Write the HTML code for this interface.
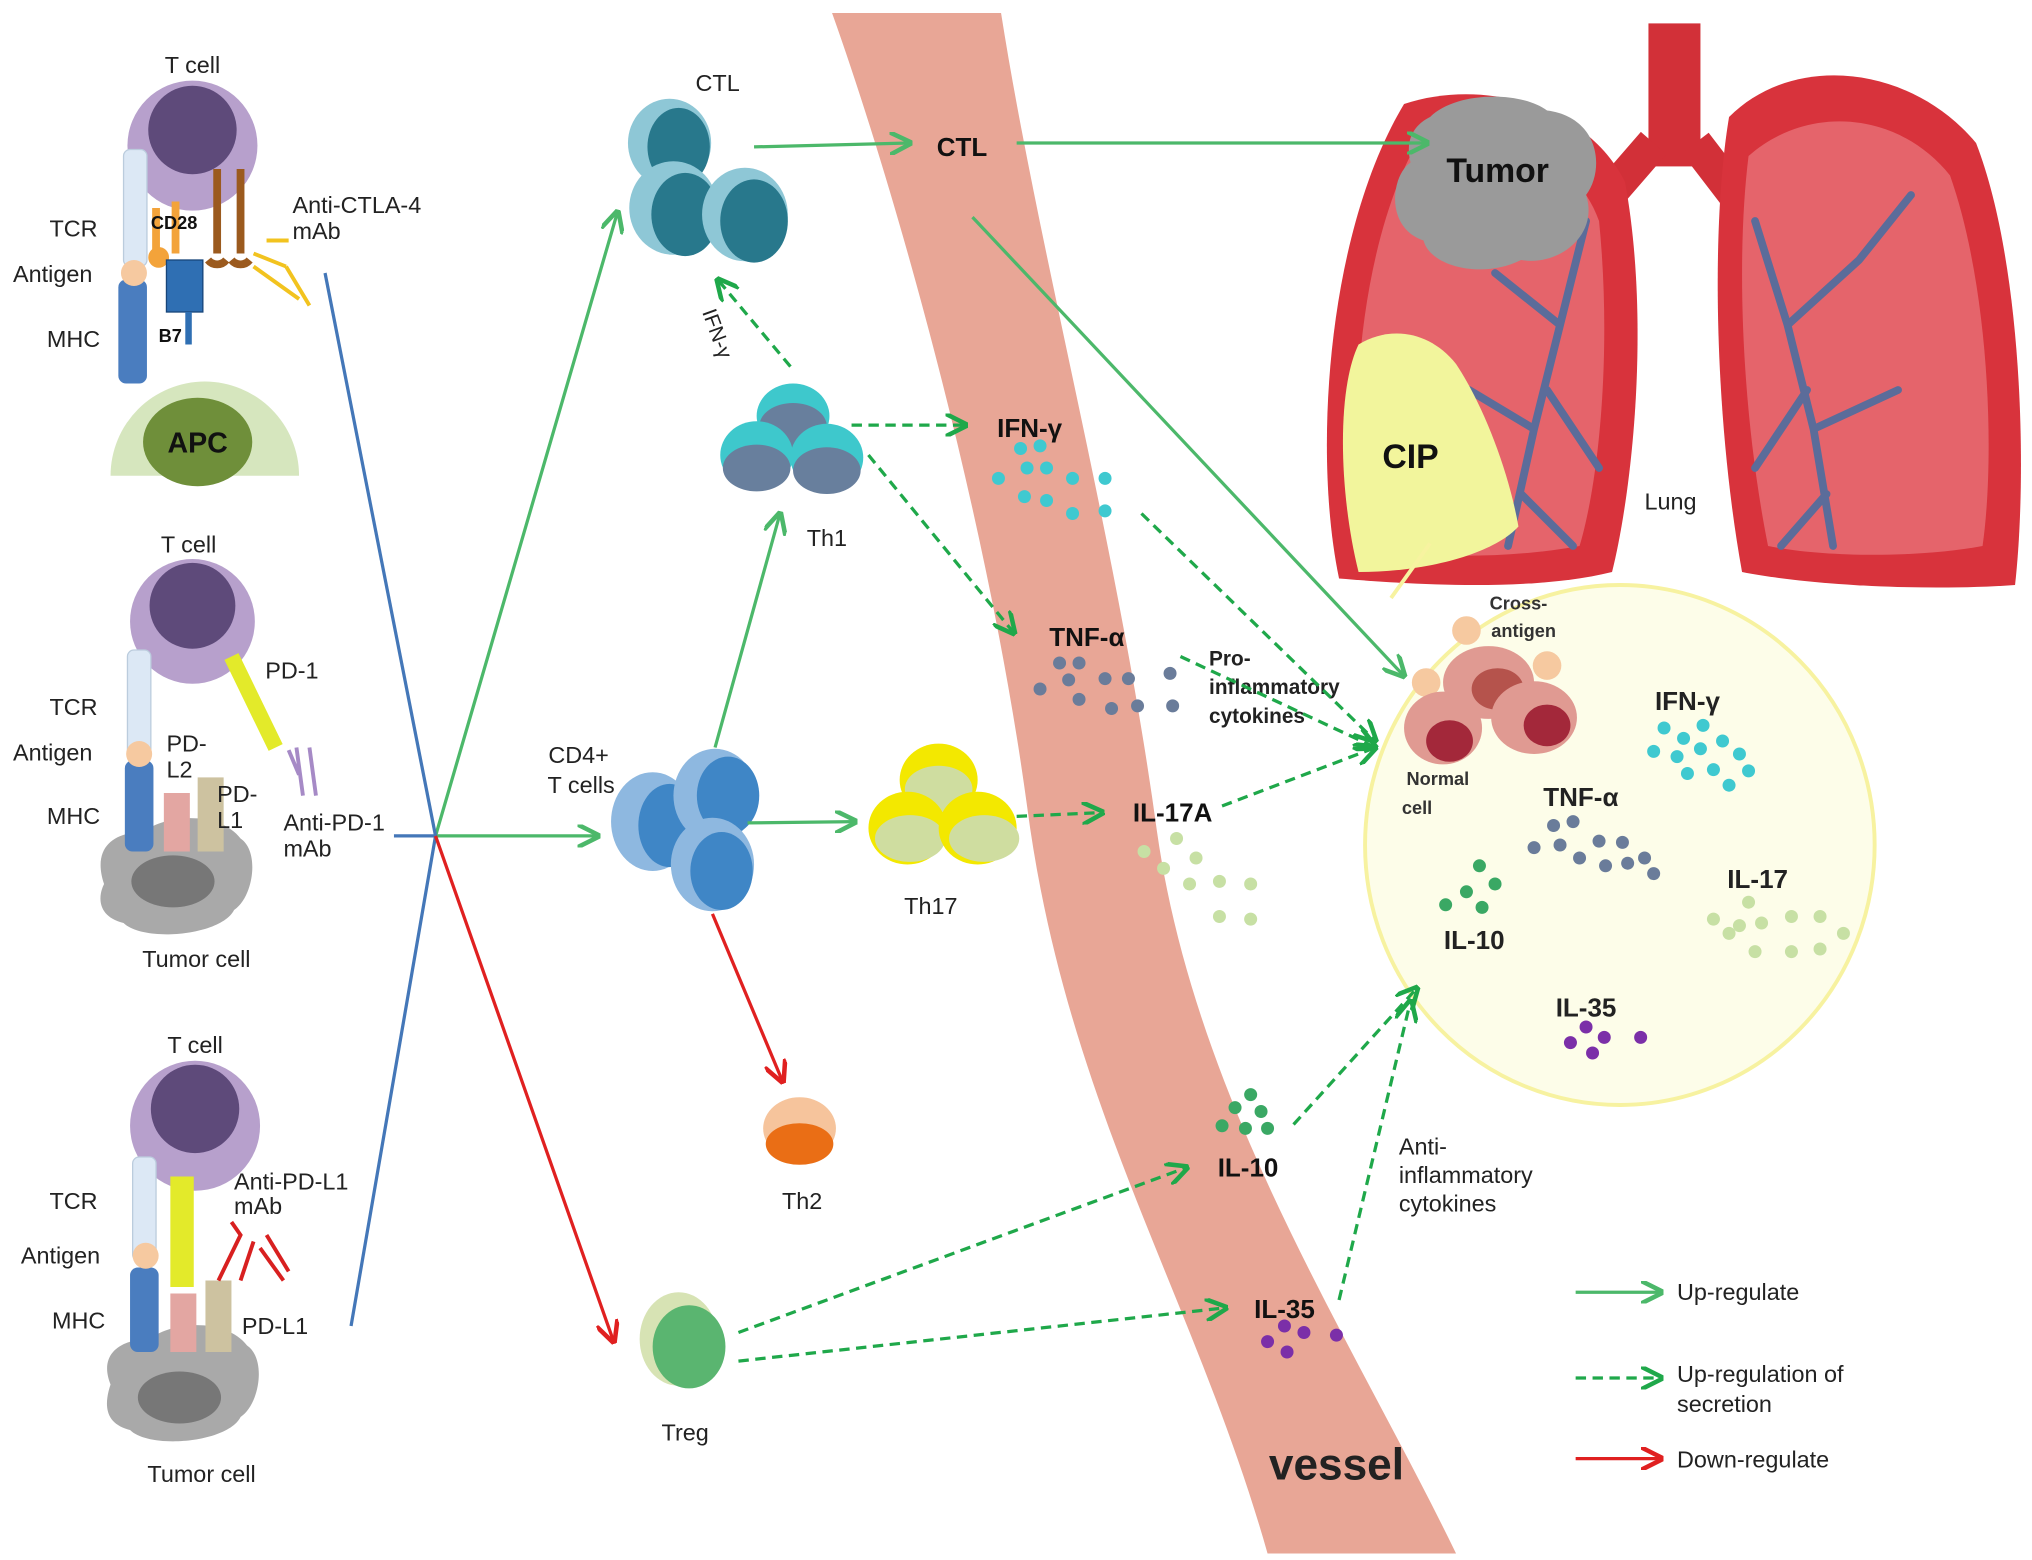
<!DOCTYPE html>
<html><head><meta charset="utf-8"><style>
html,body{margin:0;padding:0;background:#fff}
svg{display:block}
text{font-family:"Liberation Sans",sans-serif}
</style></head><body>
<svg width="2032" height="1560" viewBox="0 0 1563 1200" xmlns="http://www.w3.org/2000/svg">
<defs>
<marker id="ag" viewBox="0 0 10 10" refX="9" refY="5" markerWidth="7" markerHeight="7" orient="auto"><path d="M0,0 L10,5 L0,10" fill="none" stroke="#4cb86a" stroke-width="2"/></marker>
<marker id="ad" viewBox="0 0 10 10" refX="9" refY="5" markerWidth="7" markerHeight="7" orient="auto"><path d="M0,0 L10,5 L0,10" fill="none" stroke="#1fa84a" stroke-width="2"/></marker>
<marker id="ar" viewBox="0 0 10 10" refX="9" refY="5" markerWidth="7" markerHeight="7" orient="auto"><path d="M0,0 L10,5 L0,10" fill="none" stroke="#e02020" stroke-width="2"/></marker>
</defs>
<rect width="1563" height="1200" fill="#fff"/>
<!-- vessel -->
<path d="M640,10 C690,150 760,400 790,620 C820,850 920,1000 975,1195 L1120,1195 C1040,1030 920,850 890,640 C860,420 800,200 770,10 Z" fill="#e8a696"/>
<text x="1028" y="1138" font-size="34" font-weight="bold" text-anchor="middle" fill="#222">vessel</text>
<!-- lungs -->
<rect x="1268" y="18" width="40" height="110" fill="#d23038"/>
<path d="M1272,110 L1220,170 M1304,110 L1350,170" stroke="#d23038" stroke-width="26" fill="none"/>
<path d="M1080,80 C1140,60 1220,80 1250,140 C1270,250 1255,380 1240,440 C1180,455 1090,450 1030,445 C1010,350 1020,180 1080,80 Z" fill="#d8333c"/>
<path d="M1090,110 C1150,95 1210,115 1230,170 C1240,270 1230,370 1215,420 C1160,430 1090,430 1050,420 C1035,330 1045,190 1090,110 Z" fill="#e5646b"/>
<path d="M1330,90 C1380,40 1470,50 1520,110 C1555,200 1560,360 1550,450 C1480,455 1390,450 1340,440 C1320,330 1315,180 1330,90 Z" fill="#d8333c"/>
<path d="M1345,120 C1390,80 1460,85 1500,135 C1530,220 1535,350 1525,420 C1470,430 1400,428 1360,420 C1340,320 1335,200 1345,120 Z" fill="#e5646b"/>
<g stroke="#5b6c9a" stroke-width="6" fill="none" stroke-linecap="round">
<path d="M1220,170 L1200,250 L1180,330 L1160,420 M1200,250 L1150,210 M1190,300 L1230,360 M1180,330 L1130,300 M1170,380 L1210,420"/>
<path d="M1350,170 L1375,250 L1395,330 L1410,420 M1375,250 L1430,200 M1390,300 L1350,360 M1395,330 L1460,300 M1405,380 L1370,420 M1430,200 L1470,150"/>
</g>
<path d="M1100,90 C1120,70 1170,70 1190,85 C1230,90 1235,130 1220,150 C1230,180 1200,205 1170,200 C1140,215 1100,205 1095,185 C1065,175 1070,135 1085,125 C1080,105 1090,95 1100,90 Z" fill="#9a9a9a"/>
<text x="1152" y="140" font-size="26" font-weight="bold" text-anchor="middle" fill="#111">Tumor</text>
<path d="M1045,265 C1070,250 1100,255 1120,280 C1140,310 1160,360 1168,405 C1150,425 1100,440 1045,440 C1030,380 1028,300 1045,265 Z" fill="#f2f59c"/>
<text x="1085" y="360" font-size="26" font-weight="bold" text-anchor="middle" fill="#111">CIP</text>
<text x="1285" y="392" font-size="18" text-anchor="middle" fill="#222">Lung</text>
<!-- magnified circle -->
<line x1="1100" y1="418" x2="1070" y2="460" stroke="#f7f3a0" stroke-width="3"/>
<ellipse cx="1246" cy="650" rx="196" ry="200" fill="#fdfde9" stroke="#f7f2a0" stroke-width="3"/>
<circle cx="1128" cy="485" r="11" fill="#f6c9a0"/><circle cx="1097" cy="525" r="11" fill="#f6c9a0"/><circle cx="1190" cy="512" r="11" fill="#f6c9a0"/>
<ellipse cx="1145" cy="525" rx="35" ry="28" fill="#e09a92"/><ellipse cx="1152" cy="530" rx="20" ry="16" fill="#b5534c"/>
<ellipse cx="1110" cy="560" rx="30" ry="28" fill="#e09a92"/><ellipse cx="1115" cy="570" rx="18" ry="16" fill="#a3283a"/>
<ellipse cx="1180" cy="552" rx="33" ry="28" fill="#e09a92"/><ellipse cx="1190" cy="558" rx="18" ry="16" fill="#a3283a"/>
<text x="1168" y="469" font-size="14" font-weight="bold" text-anchor="middle" fill="#333">Cross-</text>
<text x="1172" y="490" font-size="14" font-weight="bold" text-anchor="middle" fill="#333">antigen</text>
<text x="1106" y="604" font-size="14" font-weight="bold" text-anchor="middle" fill="#333">Normal</text>
<text x="1090" y="626" font-size="14" font-weight="bold" text-anchor="middle" fill="#333">cell</text>
<text x="1298" y="546" font-size="20" font-weight="bold" text-anchor="middle" fill="#222">IFN-γ</text>
<g fill="#3fc9d0"><circle cx="1280" cy="560" r="5"/><circle cx="1295" cy="568" r="5"/><circle cx="1310" cy="558" r="5"/><circle cx="1272" cy="578" r="5"/><circle cx="1290" cy="582" r="5"/><circle cx="1308" cy="576" r="5"/><circle cx="1325" cy="570" r="5"/><circle cx="1338" cy="580" r="5"/><circle cx="1298" cy="595" r="5"/><circle cx="1318" cy="592" r="5"/><circle cx="1345" cy="593" r="5"/><circle cx="1330" cy="604" r="5"/></g>
<text x="1216" y="620" font-size="20" font-weight="bold" text-anchor="middle" fill="#222">TNF-α</text>
<g fill="#6a7c9a"><circle cx="1195" cy="635" r="5"/><circle cx="1210" cy="632" r="5"/><circle cx="1180" cy="652" r="5"/><circle cx="1200" cy="650" r="5"/><circle cx="1215" cy="660" r="5"/><circle cx="1230" cy="647" r="5"/><circle cx="1248" cy="648" r="5"/><circle cx="1235" cy="666" r="5"/><circle cx="1252" cy="664" r="5"/><circle cx="1265" cy="660" r="5"/><circle cx="1272" cy="672" r="5"/></g>
<text x="1352" y="683" font-size="20" font-weight="bold" text-anchor="middle" fill="#222">IL-17</text>
<g fill="#c7e0a4"><circle cx="1345" cy="694" r="5"/><circle cx="1318" cy="707" r="5"/><circle cx="1338" cy="712" r="5"/><circle cx="1355" cy="710" r="5"/><circle cx="1330" cy="718" r="5"/><circle cx="1378" cy="705" r="5"/><circle cx="1400" cy="705" r="5"/><circle cx="1418" cy="718" r="5"/><circle cx="1350" cy="732" r="5"/><circle cx="1378" cy="732" r="5"/><circle cx="1400" cy="730" r="5"/></g>
<text x="1134" y="730" font-size="20" font-weight="bold" text-anchor="middle" fill="#222">IL-10</text>
<g fill="#3aa864"><circle cx="1138" cy="666" r="5"/><circle cx="1150" cy="680" r="5"/><circle cx="1128" cy="686" r="5"/><circle cx="1112" cy="696" r="5"/><circle cx="1140" cy="698" r="5"/></g>
<text x="1220" y="782" font-size="20" font-weight="bold" text-anchor="middle" fill="#222">IL-35</text>
<g fill="#7b2fa8"><circle cx="1220" cy="790" r="5"/><circle cx="1208" cy="802" r="5"/><circle cx="1234" cy="798" r="5"/><circle cx="1225" cy="810" r="5"/><circle cx="1262" cy="798" r="5"/></g>
<!-- vessel contents -->
<text x="740" y="120" font-size="20" font-weight="bold" text-anchor="middle" fill="#111">CTL</text>
<text x="792" y="336" font-size="20" font-weight="bold" text-anchor="middle" fill="#111">IFN-γ</text>
<g fill="#3fc9d0"><circle cx="785" cy="345" r="5"/><circle cx="800" cy="343" r="5"/><circle cx="790" cy="360" r="5"/><circle cx="805" cy="360" r="5"/><circle cx="768" cy="368" r="5"/><circle cx="825" cy="368" r="5"/><circle cx="850" cy="368" r="5"/><circle cx="788" cy="382" r="5"/><circle cx="805" cy="385" r="5"/><circle cx="825" cy="395" r="5"/><circle cx="850" cy="393" r="5"/></g>
<text x="836" y="497" font-size="20" font-weight="bold" text-anchor="middle" fill="#111">TNF-α</text>
<g fill="#6a7c9a"><circle cx="815" cy="510" r="5"/><circle cx="830" cy="510" r="5"/><circle cx="822" cy="523" r="5"/><circle cx="800" cy="530" r="5"/><circle cx="850" cy="522" r="5"/><circle cx="868" cy="522" r="5"/><circle cx="900" cy="518" r="5"/><circle cx="830" cy="538" r="5"/><circle cx="855" cy="545" r="5"/><circle cx="875" cy="543" r="5"/><circle cx="902" cy="543" r="5"/></g>
<text x="902" y="632" font-size="20" font-weight="bold" text-anchor="middle" fill="#111">IL-17A</text>
<g fill="#c7e0a4"><circle cx="905" cy="645" r="5"/><circle cx="920" cy="660" r="5"/><circle cx="880" cy="655" r="5"/><circle cx="895" cy="668" r="5"/><circle cx="915" cy="680" r="5"/><circle cx="938" cy="678" r="5"/><circle cx="962" cy="680" r="5"/><circle cx="938" cy="705" r="5"/><circle cx="962" cy="707" r="5"/></g>
<g fill="#3aa864"><circle cx="962" cy="842" r="5"/><circle cx="950" cy="852" r="5"/><circle cx="970" cy="855" r="5"/><circle cx="940" cy="866" r="5"/><circle cx="958" cy="868" r="5"/><circle cx="975" cy="868" r="5"/></g>
<text x="960" y="905" font-size="20" font-weight="bold" text-anchor="middle" fill="#111">IL-10</text>
<text x="988" y="1014" font-size="20" font-weight="bold" text-anchor="middle" fill="#111">IL-35</text>
<g fill="#7b2fa8"><circle cx="988" cy="1020" r="5"/><circle cx="1003" cy="1025" r="5"/><circle cx="975" cy="1032" r="5"/><circle cx="990" cy="1040" r="5"/><circle cx="1028" cy="1027" r="5"/></g>
<text x="930" y="512" font-size="16" font-weight="bold" fill="#222">Pro-</text>
<text x="930" y="534" font-size="16" font-weight="bold" fill="#222">inflammatory</text>
<text x="930" y="556" font-size="16" font-weight="bold" fill="#222">cytokines</text>
<text x="1076" y="888" font-size="18" fill="#222">Anti-</text>
<text x="1076" y="910" font-size="18" fill="#222">inflammatory</text>
<text x="1076" y="932" font-size="18" fill="#222">cytokines</text>
<!-- cells -->
<g>
<ellipse cx="515" cy="110" rx="32" ry="34" fill="#8ec7d6"/><ellipse cx="522" cy="113" rx="24" ry="30" fill="#28788c"/>
<ellipse cx="518" cy="160" rx="34" ry="36" fill="#8ec7d6"/><ellipse cx="527" cy="165" rx="26" ry="32" fill="#28788c"/>
<ellipse cx="573" cy="165" rx="33" ry="36" fill="#8ec7d6"/><ellipse cx="580" cy="170" rx="26" ry="32" fill="#28788c"/>
</g>
<text x="552" y="70" font-size="18" text-anchor="middle" fill="#222">CTL</text>
<g>
<ellipse cx="610" cy="320" rx="28" ry="25" fill="#3ec8cc"/><ellipse cx="610" cy="328" rx="26" ry="18" fill="#687f9d"/>
<ellipse cx="582" cy="350" rx="28" ry="26" fill="#3ec8cc"/><ellipse cx="582" cy="360" rx="26" ry="18" fill="#687f9d"/>
<ellipse cx="636" cy="352" rx="28" ry="26" fill="#3ec8cc"/><ellipse cx="636" cy="362" rx="26" ry="18" fill="#687f9d"/>
</g>
<text x="636" y="420" font-size="18" text-anchor="middle" fill="#222">Th1</text>
<text x="0" y="0" font-size="16" fill="#222" transform="translate(540,240) rotate(70)">IFN-γ</text>
<g>
<ellipse cx="502" cy="632" rx="32" ry="38" fill="#8eb8e0"/><ellipse cx="515" cy="635" rx="24" ry="32" fill="#3f86c6"/>
<ellipse cx="550" cy="612" rx="32" ry="36" fill="#8eb8e0"/><ellipse cx="560" cy="612" rx="24" ry="30" fill="#3f86c6"/>
<ellipse cx="548" cy="665" rx="32" ry="36" fill="#8eb8e0"/><ellipse cx="555" cy="670" rx="24" ry="30" fill="#3f86c6"/>
</g>
<text x="445" y="587" font-size="18" text-anchor="middle" fill="#222">CD4+</text>
<text x="447" y="610" font-size="18" text-anchor="middle" fill="#222">T cells</text>
<g>
<ellipse cx="722" cy="600" rx="30" ry="28" fill="#f3e800"/><ellipse cx="722" cy="607" rx="26" ry="18" fill="#cfdda0"/>
<ellipse cx="698" cy="637" rx="30" ry="28" fill="#f3e800"/><ellipse cx="700" cy="645" rx="27" ry="18" fill="#cfdda0"/>
<ellipse cx="752" cy="637" rx="30" ry="28" fill="#f3e800"/><ellipse cx="757" cy="645" rx="27" ry="18" fill="#cfdda0"/>
</g>
<text x="716" y="703" font-size="18" text-anchor="middle" fill="#222">Th17</text>
<ellipse cx="615" cy="868" rx="28" ry="24" fill="#f6c49c"/><ellipse cx="615" cy="880" rx="26" ry="16" fill="#ea6e15"/>
<text x="617" y="930" font-size="18" text-anchor="middle" fill="#222">Th2</text>
<ellipse cx="522" cy="1030" rx="30" ry="36" fill="#d7e3b4"/><ellipse cx="530" cy="1036" rx="28" ry="32" fill="#5ab570"/>
<text x="527" y="1108" font-size="18" text-anchor="middle" fill="#222">Treg</text>
<!-- arrows solid green -->
<g stroke="#4cb86a" stroke-width="2.5" fill="none" marker-end="url(#ag)">
<line x1="580" y1="113" x2="700" y2="110"/>
<line x1="782" y1="110" x2="1098" y2="110"/>
<line x1="748" y1="167" x2="1080" y2="520"/>
<line x1="335" y1="643" x2="475" y2="163"/>
<line x1="335" y1="643" x2="460" y2="643"/>
<line x1="550" y1="575" x2="600" y2="395"/>
<line x1="575" y1="633" x2="658" y2="632"/>
</g>
<line x1="270" y1="1020" x2="335" y2="643" stroke="#4477b8" stroke-width="2.5"/>
<line x1="250" y1="210" x2="335" y2="643" stroke="#4477b8" stroke-width="2.5"/>
<line x1="303" y1="643" x2="335" y2="643" stroke="#4477b8" stroke-width="2.5"/>
<g stroke="#e02020" stroke-width="2.5" fill="none" marker-end="url(#ar)">
<line x1="335" y1="643" x2="472" y2="1032"/>
<line x1="548" y1="703" x2="602" y2="832"/>
</g>
<g stroke="#1fa84a" stroke-width="2.5" fill="none" stroke-dasharray="8,5" marker-end="url(#ad)">
<line x1="608" y1="282" x2="552" y2="215"/>
<line x1="655" y1="327" x2="743" y2="327"/>
<line x1="668" y1="350" x2="780" y2="487"/>
<line x1="878" y1="395" x2="1058" y2="570"/>
<line x1="908" y1="505" x2="1058" y2="575"/>
<line x1="782" y1="628" x2="848" y2="625"/>
<line x1="940" y1="620" x2="1058" y2="575"/>
<line x1="568" y1="1025" x2="913" y2="898"/>
<line x1="568" y1="1047" x2="943" y2="1006"/>
<line x1="995" y1="865" x2="1090" y2="760"/>
<line x1="1030" y1="1000" x2="1085" y2="770"/>
</g>
<!-- legend -->
<line x1="1212" y1="994" x2="1278" y2="994" stroke="#4cb86a" stroke-width="2.5" marker-end="url(#ag)"/>
<text x="1290" y="1000" font-size="18" fill="#222">Up-regulate</text>
<line x1="1212" y1="1060" x2="1278" y2="1060" stroke="#1fa84a" stroke-width="2.5" stroke-dasharray="8,5" marker-end="url(#ad)"/>
<text x="1290" y="1063" font-size="18" fill="#222">Up-regulation of</text>
<text x="1290" y="1086" font-size="18" fill="#222">secretion</text>
<line x1="1212" y1="1122" x2="1278" y2="1122" stroke="#e02020" stroke-width="2.5" marker-end="url(#ar)"/>
<text x="1290" y="1129" font-size="18" fill="#222">Down-regulate</text>
<!-- panel 1 -->
<text x="148" y="56" font-size="18" text-anchor="middle" fill="#222">T cell</text>
<circle cx="148" cy="112" r="50" fill="#b7a0cc"/><circle cx="148" cy="100" r="34" fill="#5e4a7a"/>
<path d="M85,366 A72,72 0 0 1 230,366 Z" fill="#d6e6be"/><ellipse cx="152" cy="340" rx="42" ry="34" fill="#6f8f3a"/>
<text x="152" y="348" font-size="22" font-weight="bold" text-anchor="middle" fill="#111">APC</text>
<rect x="95" y="115" width="18" height="90" rx="5" fill="#dce8f5" stroke="#bcd" />
<rect x="91" y="215" width="22" height="80" rx="6" fill="#4a7dbf"/>
<circle cx="103" cy="210" r="10" fill="#f6c9a0"/>
<path d="M120,160 L120,195 M135,155 L135,195" stroke="#f3a33a" stroke-width="6"/>
<circle cx="122" cy="198" r="8" fill="#f3a33a"/>
<rect x="128" y="200" width="28" height="40" fill="#2f6fb3" stroke="#17457a"/>
<path d="M145,240 L145,265" stroke="#2f6fb3" stroke-width="5"/>
<path d="M167,130 L167,195 M185,130 L185,195" stroke="#9b5a1e" stroke-width="6"/>
<path d="M160,200 a9,9 0 0 0 14,0 M178,200 a9,9 0 0 0 14,0" stroke="#9b5a1e" stroke-width="6" fill="none"/>
<path d="M195,195 L220,205 M195,205 L230,230 M205,185 L222,185 M220,205 L238,235" stroke="#f2c31f" stroke-width="3" fill="none"/>
<text x="116" y="176" font-size="14" font-weight="bold" fill="#111">CD28</text>
<text x="122" y="263" font-size="14" font-weight="bold" fill="#111">B7</text>
<text x="38" y="182" font-size="18" fill="#222">TCR</text>
<text x="10" y="217" font-size="18" fill="#222">Antigen</text>
<text x="36" y="267" font-size="18" fill="#222">MHC</text>
<text x="225" y="164" font-size="18" fill="#222">Anti-CTLA-4</text>
<text x="225" y="184" font-size="18" fill="#222">mAb</text>
<!-- panel 2 -->
<text x="145" y="425" font-size="18" text-anchor="middle" fill="#222">T cell</text>
<circle cx="148" cy="478" r="48" fill="#b7a0cc"/><circle cx="148" cy="466" r="33" fill="#5e4a7a"/>
<path d="M80,680 C70,650 90,640 110,640 C130,625 170,625 185,645 C200,655 195,690 180,700 C170,720 110,725 95,710 C75,705 75,690 80,680Z" fill="#a9a9a9"/><ellipse cx="133" cy="678" rx="32" ry="20" fill="#777"/>
<rect x="98" y="500" width="18" height="85" rx="5" fill="#dce8f5" stroke="#bcd"/>
<rect x="96" y="585" width="22" height="70" rx="6" fill="#4a7dbf"/>
<circle cx="107" cy="580" r="10" fill="#f6c9a0"/>
<rect x="126" y="610" width="20" height="45" fill="#e3a6a2"/>
<rect x="152" y="598" width="20" height="57" fill="#cdc2a0"/>
<line x1="178" y1="505" x2="212" y2="575" stroke="#e3ea2a" stroke-width="12"/>
<path d="M228,575 L233,612 M238,575 L243,612 M222,577 L230,596" stroke="#a68ac6" stroke-width="3"/>
<text x="204" y="522" font-size="18" fill="#222">PD-1</text>
<text x="38" y="550" font-size="18" fill="#222">TCR</text>
<text x="10" y="585" font-size="18" fill="#222">Antigen</text>
<text x="36" y="634" font-size="18" fill="#222">MHC</text>
<text x="128" y="578" font-size="18" fill="#222">PD-</text>
<text x="128" y="598" font-size="18" fill="#222">L2</text>
<text x="167" y="617" font-size="18" fill="#222">PD-</text>
<text x="167" y="637" font-size="18" fill="#222">L1</text>
<text x="218" y="639" font-size="18" fill="#222">Anti-PD-1</text>
<text x="218" y="659" font-size="18" fill="#222">mAb</text>
<text x="151" y="744" font-size="18" text-anchor="middle" fill="#222">Tumor cell</text>
<!-- panel 3 -->
<text x="150" y="810" font-size="18" text-anchor="middle" fill="#222">T cell</text>
<circle cx="150" cy="866" r="50" fill="#b7a0cc"/><circle cx="150" cy="853" r="34" fill="#5e4a7a"/>
<path d="M85,1065 C75,1040 95,1030 115,1030 C135,1015 175,1015 190,1035 C205,1045 200,1080 185,1090 C175,1110 115,1115 100,1100 C80,1095 80,1080 85,1065Z" fill="#a9a9a9"/><ellipse cx="138" cy="1075" rx="32" ry="20" fill="#777"/>
<rect x="102" y="890" width="18" height="80" rx="5" fill="#dce8f5" stroke="#bcd"/>
<rect x="100" y="975" width="22" height="65" rx="6" fill="#4a7dbf"/>
<circle cx="112" cy="966" r="10" fill="#f6c9a0"/>
<rect x="131" y="905" width="18" height="85" fill="#e3ea2a"/>
<rect x="131" y="995" width="20" height="45" fill="#e3a6a2"/>
<rect x="158" y="985" width="20" height="55" fill="#cdc2a0"/>
<path d="M168,985 L185,950 L178,940 M185,985 L195,955 M200,960 L218,985 M205,950 L222,978" stroke="#d82020" stroke-width="3" fill="none"/>
<text x="38" y="930" font-size="18" fill="#222">TCR</text>
<text x="16" y="972" font-size="18" fill="#222">Antigen</text>
<text x="40" y="1022" font-size="18" fill="#222">MHC</text>
<text x="180" y="915" font-size="18" fill="#222">Anti-PD-L1</text>
<text x="180" y="934" font-size="18" fill="#222">mAb</text>
<text x="186" y="1026" font-size="18" fill="#222">PD-L1</text>
<text x="155" y="1140" font-size="18" text-anchor="middle" fill="#222">Tumor cell</text>
</svg>
</body></html>
